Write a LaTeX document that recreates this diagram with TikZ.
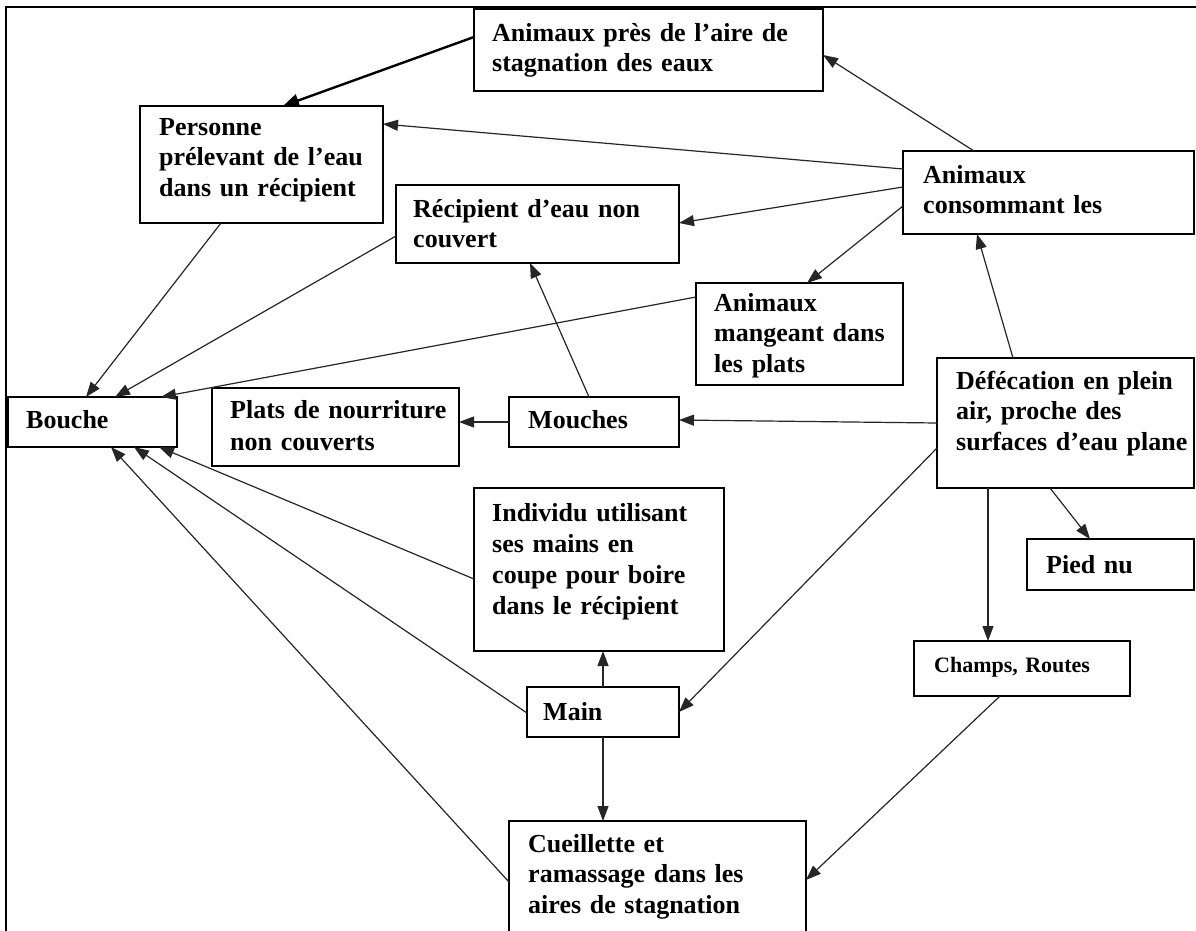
\documentclass[tikz,border=0pt]{standalone}
\usepackage{fontspec}
\setmainfont{Liberation Serif}
\usetikzlibrary{arrows.meta,calc}
\begin{document}
\begin{tikzpicture}[x=1pt,y=-1pt,
 box/.style={draw=black,line width=1.4pt,inner sep=0pt,outer sep=0pt,anchor=north west},
 txt/.style={anchor=north west,inner sep=0pt,align=left,text width=420pt,font=\fontsize{26}{30.5}\selectfont\bfseries,execute at begin node=\rule{0pt}{21pt}},
 con/.style={line width=1.2pt,draw=black!85,-{Triangle[length=15pt,width=11pt]}},
 thickcon/.style={line width=2.4pt,draw=black,-{Triangle[length=16pt,width=13pt]}}
]
\useasboundingbox (0,0) rectangle (1196,931);
\clip (0,0) rectangle (1196,931);
\fill[white] (0,0) rectangle (1196,931);
% frame
\draw[line width=1.6pt] (6,945) -- (6,7) -- (1205,7);

% boxes
\node[box,minimum width=349pt,minimum height=82pt] (A) at (474,9) {};
\node[box,minimum width=243pt,minimum height=117pt] (P) at (140,106) {};
\node[box,minimum width=283pt,minimum height=78pt] (R) at (396,185) {};
\node[box,minimum width=291pt,minimum height=83pt] (AC) at (903,151) {};
\node[box,minimum width=207pt,minimum height=102pt] (AM) at (696,283) {};
\node[box,minimum width=169pt,minimum height=50pt] (B) at (8,397) {};
\node[box,minimum width=247pt,minimum height=78pt] (PN) at (212,388) {};
\node[box,minimum width=170pt,minimum height=50pt] (M) at (509,397) {};
\node[box,minimum width=257pt,minimum height=130pt] (D) at (937,358) {};
\node[box,minimum width=250pt,minimum height=163pt] (I) at (474,488) {};
\node[box,minimum width=167pt,minimum height=51pt] (PIED) at (1027,539) {};
\node[box,minimum width=216pt,minimum height=55pt] (CR) at (914,641) {};
\node[box,minimum width=152pt,minimum height=50pt] (MAIN) at (527,687) {};
\node[box,minimum width=297pt,minimum height=130pt] (C) at (509,821) {};

% texts
\node[txt] (At) at (492,20) {Animaux près de l’aire de\\stagnation des eaux};
\node[txt] (Pt) at (159,114) {Personne\\prélevant de l’eau\\dans un récipient};
\node[txt] (Rt) at (413,196) {Récipient d’eau non\\couvert};
\node[txt] (ACt) at (923,162) {Animaux\\consommant les};
\node[txt] (AMt) at (714,290) {Animaux\\mangeant dans\\les plats};
\node[txt] (Bt) at (26,407) {Bouche};
\node[txt,font=\fontsize{26}{32.5}\selectfont\bfseries] (PNt) at (230,397) {Plats de nourriture\\non couverts};
\node[txt] (Mt) at (528,407) {Mouches};
\node[txt] (Dt) at (956,368) {Défécation en plein\\air, proche des\\surfaces d’eau plane};
\node[txt,font=\fontsize{26}{31}\selectfont\bfseries] (It) at (492,500) {Individu utilisant\\ses mains en\\coupe pour boire\\dans le récipient};
\node[txt] (PIEDt) at (1046,552) {Pied nu};
\node[txt,font=\fontsize{22}{28}\selectfont\bfseries,execute at begin node=\rule{0pt}{18pt}] (CRt) at (934,651) {Champs, Routes};
\node[txt] (MAINt) at (543,699) {Main};
\node[txt] (Ct) at (528,831) {Cueillette et\\ramassage dans les\\aires de stagnation};

% connectors
\draw[thickcon] ($(A.north west)+(0,28)$) -- ($(P.north west)+(143,0)$);
\draw[con] ($(AC.north west)+(71,0)$) -- ($(A.north west)+(349,46)$);
\draw[con] ($(AC.north west)+(0,18)$) -- ($(P.north west)+(243,18)$);
\draw[con] ($(AC.north west)+(0,36)$) -- ($(R.north west)+(283,38)$);
\draw[con] ($(AC.north west)+(0,55)$) -- ($(AM.north west)+(111,0)$);
\draw[con] ($(D.north west)+(76,0)$) -- ($(AC.north west)+(74,83)$);
\draw[con] ($(P.north west)+(81,117)$) -- ($(B.north west)+(78,0)$);
\draw[con] ($(R.north west)+(0,51)$) -- ($(B.north west)+(107,0)$);
\draw[con] ($(AM.north west)+(0,14)$) -- ($(B.north west)+(153,0)$);
\draw[con] ($(M.north west)+(0,25)$) -- ($(PN.north west)+(247,34)$);
\draw[con] ($(M.north west)+(80,0)$) -- ($(R.north west)+(134,78)$);
\draw[con] ($(D.north west)+(0,65)$) -- ($(M.north west)+(170,23)$);
\draw[con] ($(D.north west)+(0,90)$) -- ($(MAIN.north west)+(152,25)$);
\draw[con] ($(D.north west)+(113,130)$) -- ($(PIED.north west)+(63,0)$);
\draw[con] ($(D.north west)+(51,130)$) -- ($(CR.north west)+(74,0)$);
\draw[con] ($(I.north west)+(0,91)$) -- ($(B.north west)+(151,50)$);
\draw[con] ($(MAIN.north west)+(0,26)$) -- ($(B.north west)+(126,50)$);
\draw[con] ($(C.north west)+(0,61)$) -- ($(B.north west)+(103,50)$);
\draw[con] ($(MAIN.north west)+(76,0)$) -- ($(I.north west)+(129,163)$);
\draw[con] ($(MAIN.north west)+(76,50)$) -- ($(C.north west)+(94,0)$);
\draw[con] ($(CR.north west)+(86,55)$) -- ($(C.north west)+(297,59)$);
\end{tikzpicture}
\end{document}
